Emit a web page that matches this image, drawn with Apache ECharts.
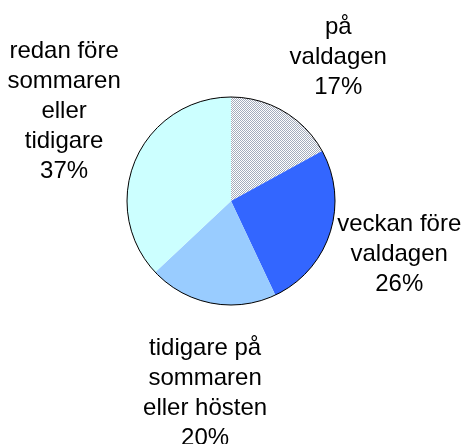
<!DOCTYPE html>
<html>
<head>
<meta charset="utf-8">
<script src="https://cdn.jsdelivr.net/npm/echarts@6/dist/echarts.min.js"></script>
<style>
  html, body { margin: 0; padding: 0; background: #fff; }
  #chart { width: 465px; height: 444px; }
</style>
</head>
<body>
<div id="chart"></div>
<script>
// data (percent)
var categories = ['på valdagen', 'veckan före valdagen', 'tidigare på sommaren eller hösten', 'redan före sommaren eller tidigare'];
var labelLines = ['på\nvaldagen', 'veckan före\nvaldagen', 'tidigare på\nsommaren\neller hösten', 'redan före\nsommaren\neller\ntidigare'];
var values = [17, 26, 20, 37];

var CX = 231, CY = 201, R = 104;
// small hand nudges so the text blocks sit where excel put them
var labelNudge = [[7, 4], [-7, -6], [15, 15], [-1, 5]];

// dotted fill for the first slice
var dots = document.createElement('canvas');
dots.width = 2; dots.height = 2;
var g = dots.getContext('2d');
g.fillStyle = '#ffffff'; g.fillRect(0, 0, 2, 2);
g.fillStyle = '#a3acbd'; g.fillRect(0, 0, 1, 1); g.fillRect(1, 1, 1, 1);

var colors = [{ image: dots, repeat: 'repeat' }, '#3366ff', '#99ccff', '#ccffff'];

var total = values.reduce(function (a, b) { return a + b; }, 0);

// box touches a point just outside the rim on the slice mid angle
function placeLabel (params) {
  var i = params.dataIndex;
  var before = 0;
  for (var k = 0; k < i; k++) before += values[k];
  var ang = (before + values[i] / 2) / total * Math.PI * 2;
  var dx = Math.sin(ang), dy = -Math.cos(ang);
  var d = R + 15;
  var ax = CX + dx * d, ay = CY + dy * d;
  var w = params.labelRect.width, h = params.labelRect.height;
  var fx = Math.min(1, Math.max(0, 0.5 - 0.8 * dx));
  var fy = Math.min(1, Math.max(0, 0.5 - 0.8 * dy));
  return {
    x: ax + (0.5 - fx) * w + labelNudge[i][0],
    y: ay + (0.5 - fy) * h + labelNudge[i][1],
    align: 'center',
    verticalAlign: 'middle'
  };
}

var chart = echarts.init(document.getElementById('chart'));
chart.setOption({
  animation: false,
  series: [
    {
      type: 'pie',
      center: [CX, CY],
      radius: R,
      startAngle: 90,
      clockwise: true,
      avoidLabelOverlap: false,
      itemStyle: { borderWidth: 0 },
      label: {
        show: true,
        position: 'outside',
        color: '#000',
        fontFamily: 'Liberation Sans, Arial, sans-serif',
        fontSize: 24,
        lineHeight: 30,
        align: 'center',
        formatter: function (p) {
          return labelLines[p.dataIndex] + '\n' + values[p.dataIndex] + '%';
        }
      },
      labelLine: { show: false },
      labelLayout: placeLabel,
      emphasis: { disabled: true },
      data: categories.map(function (name, i) {
        return { name: name, value: values[i], itemStyle: { color: colors[i] } };
      })
    },
    {
      // outline round the pie
      type: 'pie',
      center: [CX, CY],
      radius: R,
      silent: true,
      z: 3,
      showEmptyCircle: true,
      emptyCircleStyle: { color: 'rgba(0,0,0,0)', borderColor: '#000', borderWidth: 1 },
      label: { show: false },
      data: []
    }
  ]
});
</script>
</body>
</html>
